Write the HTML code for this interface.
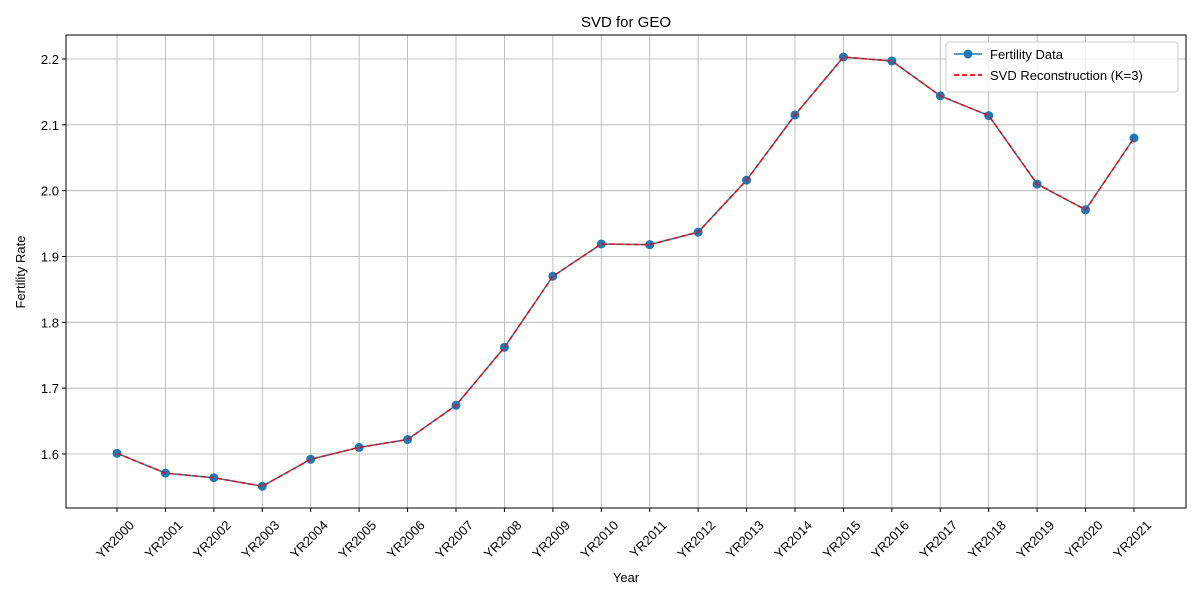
<!DOCTYPE html>
<html><head><meta charset="utf-8"><style>
body{margin:0;background:#fff;font-family:"Liberation Sans","DejaVu Sans",sans-serif}
</style></head><body>
<svg id="chart" width="1200" height="600" xmlns="http://www.w3.org/2000/svg" font-family="Liberation Sans, DejaVu Sans, sans-serif">
<rect width="1200" height="600" fill="#fff"/>
<text x="626" y="27" font-size="15" text-anchor="middle">SVD for GEO</text>
<g id="grid"></g><g id="axes"></g><g id="series"></g>
<text x="626" y="582" font-size="13" text-anchor="middle">Year</text>
<text transform="translate(25,272) rotate(-90)" font-size="13" text-anchor="middle">Fertility Rate</text>
<g>
<rect x="946" y="42" width="232" height="50" rx="3" fill="#fff" fill-opacity="0.8" stroke="#ccc"/>
<line x1="954" y1="54" x2="982" y2="54" stroke="#1f77b4" stroke-width="1.5"/>
<circle cx="968" cy="54" r="4.5" fill="#1f77b4"/>
<text x="990" y="59" font-size="13">Fertility Data</text>
<line x1="954" y1="75" x2="982" y2="75" stroke="red" stroke-width="1.8" stroke-dasharray="5,3"/>
<text x="990" y="80" font-size="13">SVD Reconstruction (K=3)</text>
</g>
</svg>
<script>
const categories=["YR2000","YR2001","YR2002","YR2003","YR2004","YR2005","YR2006","YR2007","YR2008","YR2009","YR2010","YR2011","YR2012","YR2013","YR2014","YR2015","YR2016","YR2017","YR2018","YR2019","YR2020","YR2021"];
const fertility=[1.601,1.571,1.564,1.551,1.592,1.610,1.622,1.674,1.762,1.870,1.919,1.918,1.937,2.016,2.115,2.203,2.197,2.144,2.114,2.010,1.971,2.080];
const reconstruction=[1.601,1.571,1.564,1.551,1.592,1.610,1.622,1.674,1.762,1.870,1.919,1.918,1.937,2.016,2.115,2.203,2.197,2.144,2.114,2.010,1.971,2.080];
const yTicks=[1.6,1.7,1.8,1.9,2.0,2.1,2.2];
const NS="http://www.w3.org/2000/svg";
const L=66,R=1186,T=35,B=508;
const xs=i=>117+i*(1134-117)/(categories.length-1);
const ys=v=>454-(v-1.6)*(454-59)/0.6;
function mk(tag,attrs,parent){const e=document.createElementNS(NS,tag);for(const k in attrs)e.setAttribute(k,attrs[k]);parent.appendChild(e);return e;}
const grid=document.getElementById('grid'),axes=document.getElementById('axes'),ser=document.getElementById('series');
categories.forEach((c,i)=>{const x=xs(i);
 mk('line',{x1:x,y1:T,x2:x,y2:B,stroke:'#b0b0b0','stroke-width':0.8},grid);
 mk('line',{x1:x,y1:B,x2:x,y2:B+4,stroke:'#000'},axes);
 const t=mk('text',{x:x+18,y:526,'font-size':13,'text-anchor':'end',transform:`rotate(-45 ${x+18} 526)`},axes);
 t.textContent=c;
 
 
});
yTicks.forEach(v=>{const y=ys(v);
 mk('line',{x1:L,y1:y,x2:R,y2:y,stroke:'#b0b0b0','stroke-width':0.8},grid);
 mk('line',{x1:L-4,y1:y,x2:L,y2:y,stroke:'#000'},axes);
 const t=mk('text',{x:L-7,y:y+5,'font-size':13,'text-anchor':'end'},axes);
 t.textContent=v.toFixed(1);
 
 
});
mk('rect',{x:L,y:T,width:R-L,height:B-T,fill:'none',stroke:'#000','stroke-width':1},axes);
const p1=mk('polyline',{points:fertility.map((v,i)=>xs(i)+','+ys(v)).join(' '),fill:'none',stroke:'#1f77b4','stroke-width':1.5},ser);


fertility.forEach((v,i)=>{const c=mk('circle',{cx:xs(i),cy:ys(v),r:4.5,fill:'#1f77b4'},ser);
 
 });
const p2=mk('polyline',{points:reconstruction.map((v,i)=>xs(i)+','+ys(v)).join(' '),fill:'none',stroke:'red','stroke-width':1.5,'stroke-dasharray':'5,3'},ser);


</script>
</body></html>
